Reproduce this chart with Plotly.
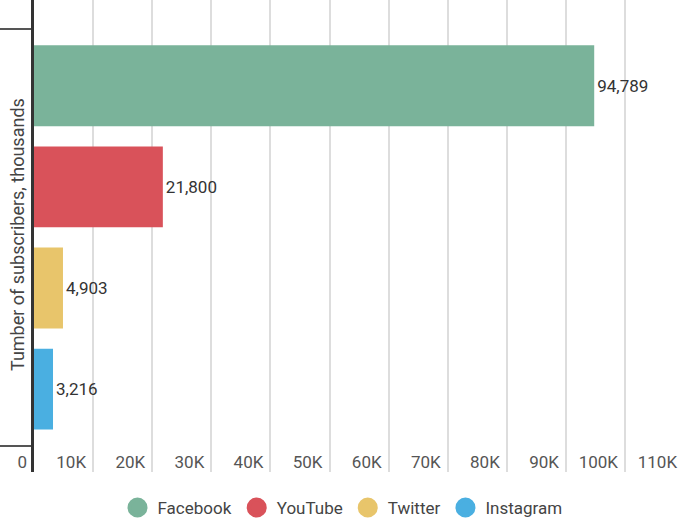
import plotly.graph_objects as go

platforms = ["Facebook", "YouTube", "Twitter", "Instagram"]
subscribers = [94789, 21800, 4903, 3216]
colors = ["#7ab39a", "#d9525a", "#e8c56b", "#4aafe1"]
tick_values = [0, 10000, 20000, 30000, 40000, 50000, 60000, 70000, 80000, 90000, 100000, 110000]
tick_labels = ["0", "10K", "20K", "30K", "40K", "50K", "60K", "70K", "80K", "90K", "100K", "110K"]
y_title = "Tumber of subscribers, thousands"

fig = go.Figure()
for name, val, col in zip(platforms, subscribers, colors):
    fig.add_trace(go.Bar(
        x=[val], y=[0], orientation="h", name=name,
        marker=dict(color=col, line=dict(width=0)),
        text=[f"{val:,}"], textposition="outside",
        textfont=dict(family="Roboto", size=17, color="#333333"),
        cliponaxis=False, showlegend=False,
    ))
for name, col in zip(platforms, colors):
    fig.add_trace(go.Scatter(
        x=[None], y=[None], mode="markers", name=name,
        marker=dict(color=col, size=16, symbol="circle", line=dict(color=col, width=4)),
        showlegend=True,
    ))

fig.update_layout(
    width=685, height=521,
    margin=dict(l=34, r=0, t=0, b=49, autoexpand=False),
    paper_bgcolor="white", plot_bgcolor="white",
    barmode="group", bargap=0.03, bargroupgap=0.2,
    font=dict(family="Roboto", size=16, color="#555555"),
    showlegend=True,
    legend=dict(orientation="h", x=0.5, xanchor="center", xref="container",
                y=0.025, yanchor="middle", yref="container",
                font=dict(family="Roboto", size=17, color="#444444"),
                itemclick=False),
    xaxis=dict(range=[0, 110150], tickvals=tick_values, ticktext=tick_labels,
               showgrid=True, gridcolor="#dddddd", gridwidth=1.5, zeroline=False,
               showline=False, ticks="", ticklabelposition="inside left",
               ticklabeloverflow="allow", ticklabelstandoff=-5, ticklabelshift=-7,
               automargin=False,
               tickfont=dict(family="Roboto", size=17, color="#555555")),
    yaxis=dict(range=[0.5624, -0.5695], tickvals=[-0.5, 0.5], ticktext=["", ""],
               ticks="outside", ticklen=34, tickwidth=1.5, tickcolor="#555555",
               showgrid=False, zeroline=False, showline=True, linecolor="#333333",
               linewidth=2.5, automargin=False),
    annotations=[dict(text=y_title, textangle=-90, xref="paper", yref="paper",
                      x=(17 - 34) / 651, y=1 - 235 / 472, showarrow=False,
                      xanchor="center", yanchor="middle",
                      font=dict(family="Roboto", size=18, color="#444444"))],
)

fig.write_html("out.html", config={"displayModeBar": False},
               post_script="document.body.style.margin='0';document.body.style.overflow='hidden';")
